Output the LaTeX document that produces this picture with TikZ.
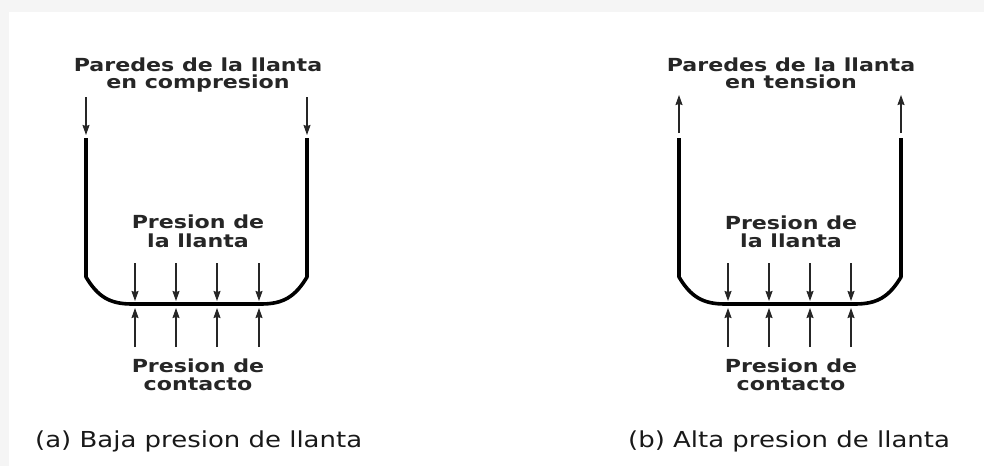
\documentclass[tikz,border=0pt]{standalone}
\usepackage{fontspec}
\usetikzlibrary{arrows.meta}
\newfontfamily\lblfont[FakeStretch=1.23]{DejaVu Sans}
\newfontfamily\capfont[FakeStretch=1.18]{DejaVu Sans}
\tikzset{
  wall/.style={line width=3.6pt, line join=round, black},
  farrow/.style={line width=1.2pt, black!85, -{Stealth[length=10pt,width=7pt,inset=1pt]}},
  lbl/.style={font=\lblfont\bfseries\fontsize{18}{18}\selectfont, anchor=base, inner sep=0pt, text=black!85},
  captxt/.style={font=\capfont\fontsize{22}{22}\selectfont, anchor=base west, inner sep=0pt, text=black!90}
}
\begin{document}
\begin{tikzpicture}[x=1pt,y=-1pt]
\useasboundingbox (0,0) rectangle (984,466);
\fill[black!4] (0,0) rectangle (984,466);
\fill[white] (9,12) rectangle (984,466);

% ---------- (a) ----------
\begin{scope}
  \node[lbl] (ta1) at (198,71) {Paredes de la llanta};
  \node[lbl] (ta2) at (198,88) {en compresion};
  \draw[farrow] (86,97) -- (86,135);
  \draw[farrow] (307,97) -- (307,135);
  \draw[wall] (86,138) -- (86,277) .. controls (98,297) and (110,304) .. (132,304)
     -- (261,304) .. controls (283,304) and (295,297) .. (307,277) -- (307,138);
  \node[lbl] (pa1) at (198,228) {Presion de};
  \node[lbl] (pa2) at (198,247) {la llanta};
  \foreach \x in {135,176,217,259}{
    \draw[farrow] (\x,263) -- (\x,301);
    \draw[farrow] (\x,347) -- (\x,308);
  }
  \node[lbl] (ca1) at (198,372) {Presion de};
  \node[lbl] (ca2) at (198,390) {contacto};
  \node[captxt] (capa) at (35,447) {(a) Baja presion de llanta};
\end{scope}

% ---------- (b) ----------
\begin{scope}
  \node[lbl] (tb1) at (791,71) {Paredes de la llanta};
  \node[lbl] (tb2) at (791,88) {en tension};
  \draw[farrow] (679,133) -- (679,95);
  \draw[farrow] (901,133) -- (901,95);
  \draw[wall] (679,138) -- (679,277) .. controls (691,297) and (703,304) .. (725,304)
     -- (855,304) .. controls (877,304) and (889,297) .. (901,277) -- (901,138);
  \node[lbl] (pb1) at (791,229) {Presion de};
  \node[lbl] (pb2) at (791,247) {la llanta};
  \foreach \x in {728,769,810,851}{
    \draw[farrow] (\x,263) -- (\x,301);
    \draw[farrow] (\x,347) -- (\x,308);
  }
  \node[lbl] (cb1) at (791,372) {Presion de};
  \node[lbl] (cb2) at (791,390) {contacto};
  \node[captxt] (capb) at (628,447) {(b) Alta presion de llanta};
\end{scope}
\end{tikzpicture}
\end{document}
